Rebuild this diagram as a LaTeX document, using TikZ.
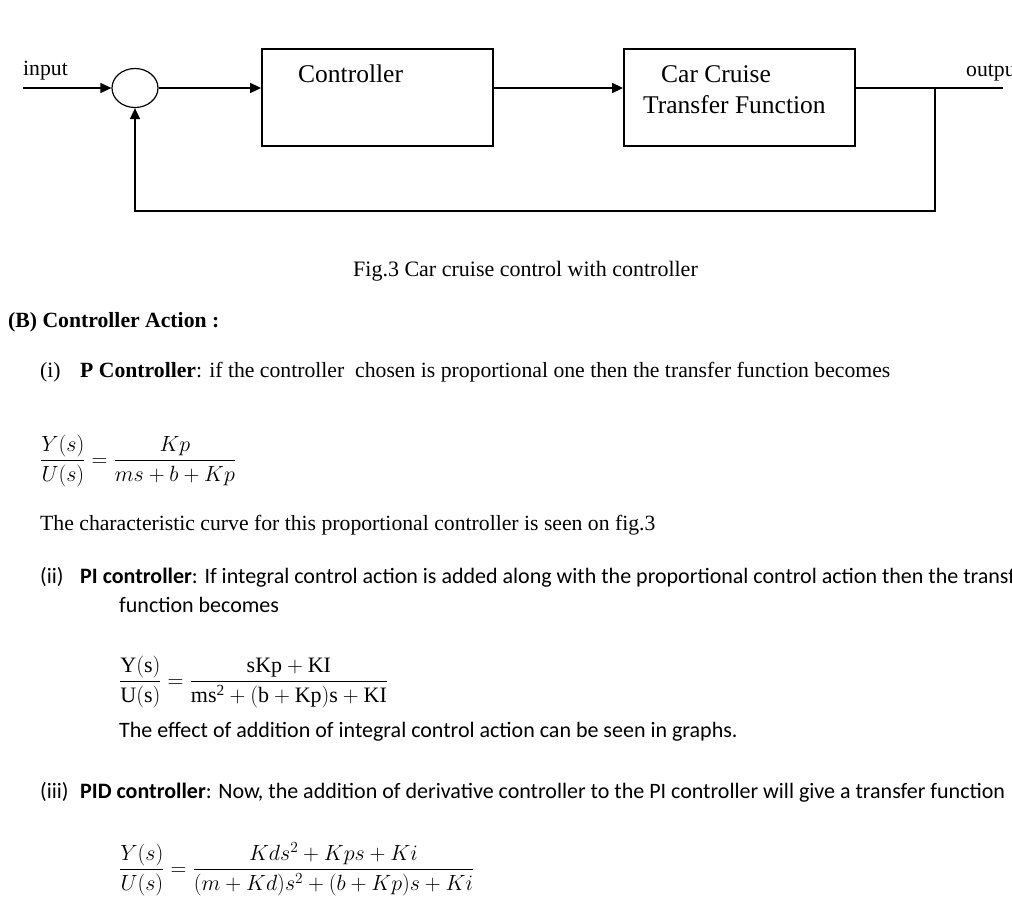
\RequirePackage{fix-cm}
\documentclass[tikz,border=0pt]{standalone}
\usepackage{amsmath}
\usepackage{fontspec}
\setmainfont{Liberation Serif}
\newfontfamily\calibri{Carlito}
\usetikzlibrary{shapes.geometric,arrows.meta}

\begin{document}
\begin{tikzpicture}[x=1pt,y=-1pt,
    block/.style={draw, line width=1.8pt, minimum width=231pt, minimum height=97pt, inner sep=0pt},
    sumpt/.style={draw, ellipse, line width=1.2pt, minimum width=46pt, minimum height=39pt, inner sep=0pt},
    sig/.style={line width=1.6pt},
    arr/.style={sig, -{Triangle[length=11pt,width=10pt]}},
    txt/.style={anchor=base west, inner sep=0pt, font=\fontsize{21.7}{26}\selectfont},
    boxtxt/.style={anchor=base west, inner sep=0pt, font=\fontsize{25.5}{30}\selectfont},
    cal/.style={anchor=base west, inner sep=0pt, font=\calibri\fontsize{22}{26}\selectfont},
    eqn/.style={anchor=base west, inner sep=0pt, font=\fontsize{22}{26}\selectfont}]
  \useasboundingbox (0,0) rectangle (1012,903);
  \clip (0,0) rectangle (1012,903);

  % block diagram
  \node[sumpt] (sum) at (135,88) {};
  \node[block] (ctrl) at (377.5,97.5) {};
  \node[block] (plant) at (739.5,97.5) {};
  \coordinate (in) at (23,88);
  \coordinate (tap) at (935,88);
  \coordinate (out) at (1003,88);
  \coordinate (fb) at (935,211);

  \draw[arr] (in) -- (sum.west);
  \draw[arr] (sum.east) -- (sum.east -| ctrl.west);
  \draw[arr] (ctrl.east |- sum) -- (plant.west |- sum);
  \draw[sig] (plant.east |- sum) -- (out);
  \draw[arr] (tap) -- (fb) -| (sum.south);

  \node[txt] (inlbl) at (23,75) {input};
  \node[txt] (outlbl) at (966,76) {output};
  \node[boxtxt] (ctrllbl) at (298,82) {Controller};
  \node[boxtxt] (plantlbl1) at (661,82) {Car Cruise};
  \node[boxtxt] (plantlbl2) at (643,113) {Transfer Function};
  \node[txt, font=\fontsize{22}{26}\selectfont] (caption) at (353,276) {Fig.3 Car cruise control with controller};

  % text below
  \node[txt] (head) at (8,327) {\textbf{(B) Controller Action :}};
  \node[txt] (num1) at (40,377) {(i)};
  \node[txt] (par1) at (80,377) {\textbf{P Controller}: if the controller\ \ chosen is proportional one then the transfer function becomes};
  \node[eqn] (eq1) at (40,466) {$\dfrac{Y(s)}{U(s)}=\dfrac{Kp}{ms+b+Kp}$};
  \node[txt] (par1b) at (40,530) {The characteristic curve for this proportional controller is seen on fig.3};

  \node[cal] (num2) at (40,583) {(ii)};
  \node[cal] (par2) at (80,583) {\textbf{PI controller}: If integral control action is added along with the proportional control action then the transfer};
  \node[cal] (par2b) at (119,612) {function becomes};
  \node[eqn] (eq2) at (119,687) {$\dfrac{\mathrm{Y(s)}}{\mathrm{U(s)}}=\dfrac{\mathrm{sKp+KI}}{\mathrm{ms^2+(b+Kp)s+KI}}$};
  \node[cal] (par2c) at (119,737) {The effect of addition of integral control action can be seen in graphs.};

  \node[cal] (num3) at (40,798) {(iii)};
  \node[cal] (par3) at (80,798) {\textbf{PID controller}: Now, the addition of derivative controller to the PI controller will give a transfer function};
  \node[eqn] (eq3) at (119,875) {$\dfrac{Y(s)}{U(s)}=\dfrac{Kds^2+Kps+Ki}{(m+Kd)s^2+(b+Kp)s+Ki}$};
\end{tikzpicture}
\end{document}
